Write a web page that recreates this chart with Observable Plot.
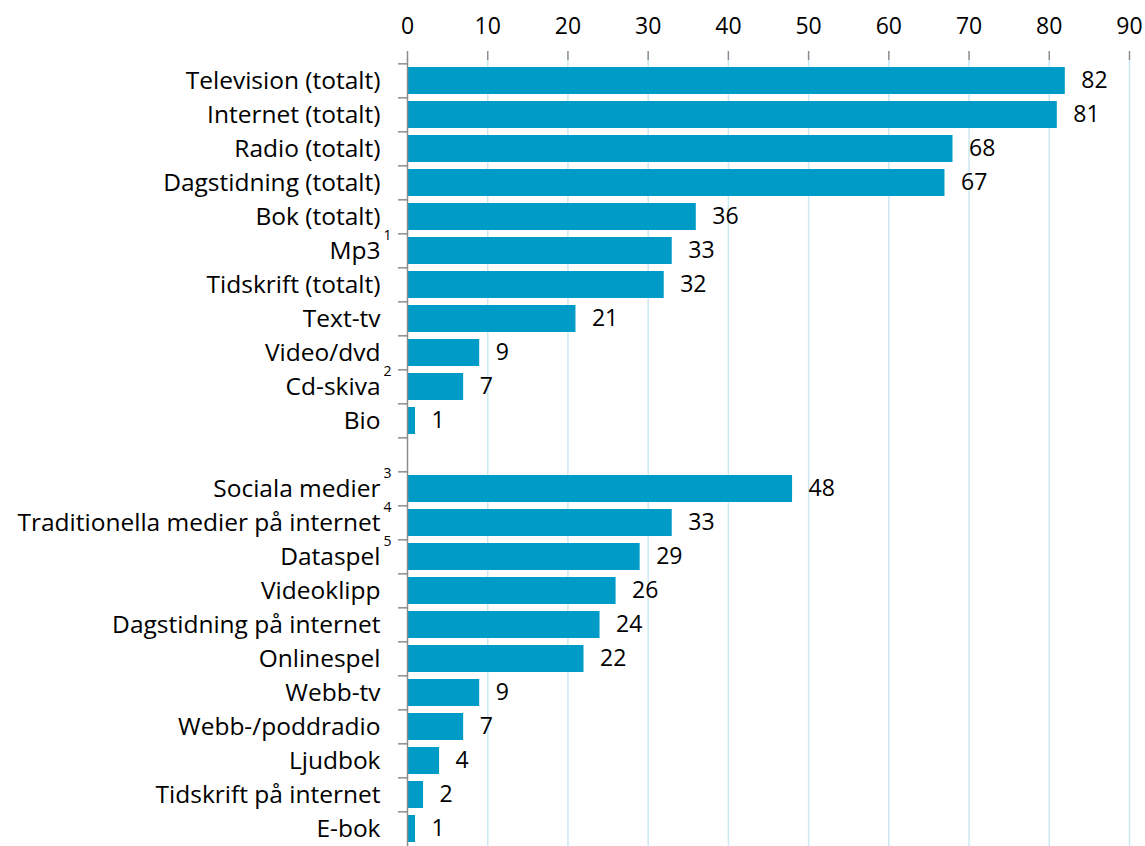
<!DOCTYPE html>
<html>
<head>
<meta charset="utf-8">
<script src="https://cdn.jsdelivr.net/npm/d3@7"></script>
<script src="https://cdn.jsdelivr.net/npm/@observablehq/plot@0.6"></script>
<style>
html, body { margin: 0; padding: 0; background: #fff; overflow: hidden; }
</style>
</head>
<body>
<div id="chart"></div>
<script>
// Categories (a blank " " row separates the two groups)
const categories = [
  "Television (totalt)", "Internet (totalt)", "Radio (totalt)", "Dagstidning (totalt)",
  "Bok (totalt)", "Mp3", "Tidskrift (totalt)", "Text-tv", "Video/dvd", "Cd-skiva", "Bio",
  " ",
  "Sociala medier", "Traditionella medier på internet", "Dataspel", "Videoklipp",
  "Dagstidning på internet", "Onlinespel", "Webb-tv", "Webb-/poddradio", "Ljudbok",
  "Tidskrift på internet", "E-bok"
];
const values = [82, 81, 68, 67, 36, 33, 32, 21, 9, 7, 1, null, 48, 33, 29, 26, 24, 22, 9, 7, 4, 2, 1];
const footnotes = [null, null, null, null, null, "1", null, null, null, "2", null, null, "3", "4", "5", null, null, null, null, null, null, null, null];
const xTicks = [0, 10, 20, 30, 40, 50, 60, 70, 80, 90];

const rows = categories.map((c, i) => ({category: c, value: values[i], note: footnotes[i]}));
const bars = rows.filter(d => d.value != null);
const notes = rows.filter(d => d.note != null);

const W = 1145, H = 849, MT = 59, MB = 0;
const step = (H - MT - MB) / categories.length;
const font = "'Open Sans', Lato, sans-serif";
const gray = "#8c8c8c";
const fsLabel = 24.5, fsNum = 23;

const chart = Plot.plot({
  width: W, height: H,
  marginTop: MT, marginBottom: MB, marginLeft: 407, marginRight: 16,
  style: {fontFamily: font, fontSize: fsNum + "px", color: "#000", background: "#fff", overflow: "visible"},
  x: {domain: [0, 90], axis: null},
  y: {domain: categories, paddingInner: 0.21, paddingOuter: 0.105, axis: null},
  marks: [
    Plot.gridX(xTicks.filter(t => t > 0), {stroke: "#cbe8f3", strokeOpacity: 1, strokeWidth: 1.5}),
    Plot.barX(bars, {x: "value", y: "category", fill: "#009cc7"}),
    Plot.text(bars, {x: "value", y: "category", text: d => String(d.value), textAnchor: "start", dx: 16, fontSize: fsNum, fill: "#000"}),
    Plot.ruleX([0], {stroke: gray, strokeWidth: 1.5}),
    Plot.axisX({anchor: "top", ticks: xTicks, tickSize: 9, tickPadding: 17, line: true, stroke: gray, strokeWidth: 1.5, fontSize: fsNum, color: "#000", label: null, tickFormat: d => String(d)}),
    Plot.axisY({anchor: "left", tickSize: 9, text: null, stroke: gray, strokeWidth: 1.5, label: null, dy: -step / 2}),
    Plot.axisY({anchor: "left", tickSize: 0, tickPadding: 27, fontSize: fsLabel, fill: "#000", label: null, tickFormat: d => d}),
    Plot.text(notes, {frameAnchor: "left", y: "category", text: "note", dx: -20, dy: -15, fontSize: 14, fill: "#000", textAnchor: "middle"})
  ]
});
document.getElementById("chart").appendChild(chart);
</script>
</body>
</html>
